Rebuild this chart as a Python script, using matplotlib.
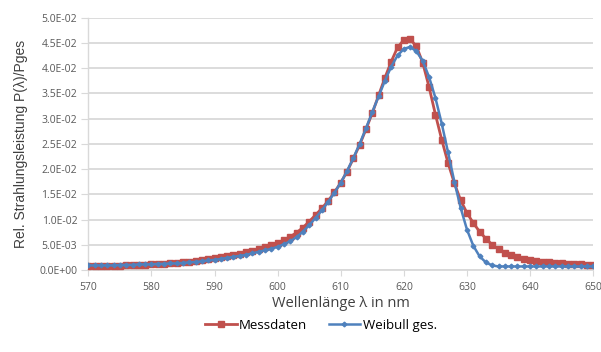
import matplotlib
matplotlib.use('Agg')
import matplotlib.pyplot as plt
from matplotlib.ticker import FuncFormatter, MultipleLocator
from matplotlib.lines import Line2D

# wavelength in nm, 1 nm steps
wavelength = list(range(570, 651))

messdaten = [
    0.0007, 0.0007, 0.0007, 0.0008, 0.0008, 0.0008, 0.0009, 0.0009, 0.0010, 0.0010,  # 570-579
    0.0011, 0.0012, 0.0012, 0.0013, 0.0014, 0.0015, 0.0016, 0.0017, 0.0019, 0.0021,  # 580-589
    0.0023, 0.0025, 0.0027, 0.0029, 0.0032, 0.0035, 0.0038, 0.0041, 0.0045, 0.0049,  # 590-599
    0.0054, 0.0059, 0.0066, 0.0074, 0.0084, 0.0096, 0.0109, 0.0122, 0.0137, 0.0154,  # 600-609
    0.0173, 0.0195, 0.0221, 0.0248, 0.0279, 0.0311, 0.0346, 0.0381, 0.0413, 0.0441,  # 610-619
    0.0456, 0.0457, 0.0443, 0.0410, 0.0362, 0.0308, 0.0258, 0.0212, 0.0172, 0.0138,  # 620-629
    0.0113, 0.0093, 0.0076, 0.0062, 0.0050, 0.0041, 0.0034, 0.0029, 0.0025, 0.0022,  # 630-639
    0.0020, 0.0018, 0.0016, 0.0015, 0.0014, 0.0013, 0.0012, 0.0011, 0.0011, 0.0010,  # 640-649
    0.0010,                                                                          # 650
]

weibull = [
    0.0009, 0.0009, 0.0009, 0.0009, 0.0009, 0.0010, 0.0010, 0.0010, 0.0011, 0.0011,
    0.0011, 0.0012, 0.0012, 0.0013, 0.0013, 0.0014, 0.0015, 0.0016, 0.0017, 0.0019,
    0.0020, 0.0022, 0.0024, 0.0026, 0.0028, 0.0030, 0.0033, 0.0036, 0.0039, 0.0042,
    0.0046, 0.0051, 0.0057, 0.0065, 0.0076, 0.0089, 0.0103, 0.0118, 0.0135, 0.0153,
    0.0173, 0.0196, 0.0222, 0.0250, 0.0281, 0.0313, 0.0344, 0.0375, 0.0403, 0.0425,
    0.0438, 0.0442, 0.0433, 0.0414, 0.0382, 0.0341, 0.0290, 0.0233, 0.0175, 0.0123,
    0.0080, 0.0048, 0.0027, 0.0015, 0.0009, 0.0007, 0.0007, 0.0007, 0.0007, 0.0007,
    0.0007, 0.0007, 0.0007, 0.0007, 0.0007, 0.0007, 0.0007, 0.0007, 0.0007, 0.0007,
    0.0007,
]

red = '#C0504D'
blue = '#4F81BD'
grey = '#595959'

fig = plt.figure(figsize=(6.01, 3.52), dpi=100)
ax = fig.add_axes([0.147, 0.233, 0.840, 0.717])

ax.plot(wavelength, messdaten, color=red, lw=2.0, marker='s', ms=4.0,
        label='Messdaten', zorder=3)
ax.plot(wavelength, weibull, color=blue, lw=1.8, marker='D', ms=2.4,
        label='Weibull ges.', zorder=4)

ax.set_xlim(570, 650)
ax.set_ylim(0, 0.05)
ax.xaxis.set_major_locator(MultipleLocator(10))
ax.yaxis.set_major_locator(MultipleLocator(0.005))

# Excel style scientific tick labels
ax.yaxis.set_major_formatter(FuncFormatter(lambda v, pos: f'{v:.1E}'))

ax.grid(True, axis='y', color='#D9D9D9', lw=1.3)
ax.set_axisbelow(True)
for side in ['top', 'right']:
    ax.spines[side].set_visible(False)
ax.spines['left'].set_color('#D9D9D9')
ax.spines['bottom'].set_color('#D9D9D9')
ax.spines['left'].set_linewidth(1.0)
ax.spines['bottom'].set_linewidth(1.3)

ax.tick_params(axis='x', direction='out', length=4, color='#D9D9D9',
               labelsize=7.5, labelcolor=grey, pad=5)
ax.tick_params(axis='y', direction='out', length=5, color='#D9D9D9',
               labelsize=7.5, labelcolor=grey, pad=3)
for lab in ax.get_xticklabels() + ax.get_yticklabels():
    lab.set_family('Open Sans')

ax.set_xlabel('Wellenlänge λ in nm', fontsize=10.5, color='#404040',
              family='Open Sans', labelpad=2)
ax.set_ylabel('Rel. Strahlungsleistung P(λ)/Pges', fontsize=10,
              color='#404040', family='Liberation Sans', labelpad=8)

handles = [
    Line2D([], [], color=red, lw=2.0, marker='s', ms=4.0),
    Line2D([], [], color=blue, lw=1.8, marker='D', ms=2.4),
]
fig.legend(handles, ['Messdaten', 'Weibull ges.'], loc='center',
           bbox_to_anchor=(0.534, 0.075), ncol=2, frameon=False,
           prop={'family': 'Open Sans', 'size': 9.5}, handlelength=2.4,
           handletextpad=0.2, columnspacing=1.6)

fig.savefig('out.png', dpi=100, facecolor='white')
